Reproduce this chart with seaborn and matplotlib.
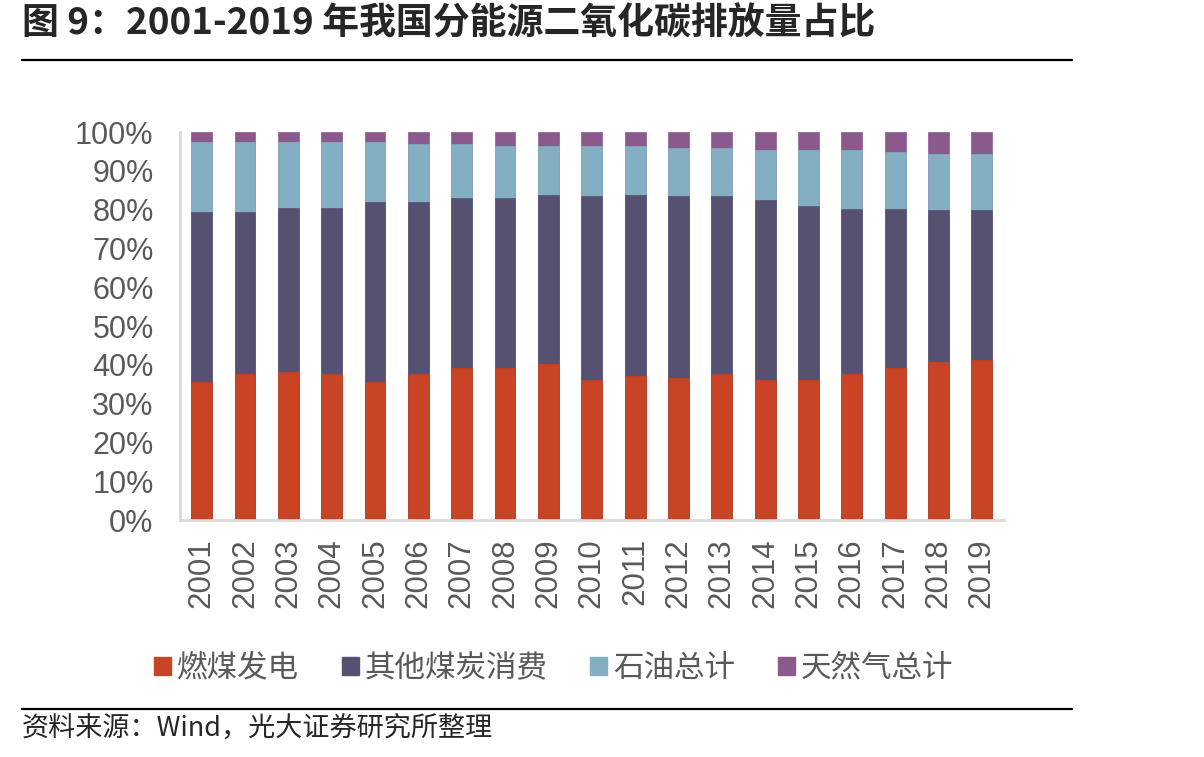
import numpy as np
import pandas as pd
import matplotlib
matplotlib.use('Agg')
import matplotlib.pyplot as plt
from matplotlib.patches import Patch
from matplotlib.lines import Line2D
import seaborn as sns

# ============================================================
# 데이터 (그림에서 읽은 값, %)
# ============================================================
years = [str(y) for y in range(2001, 2020)]
coal_power = [35.6, 37.6, 38.2, 37.6, 35.6, 37.6, 39.2, 39.2, 40.3, 36.1,
              37.1, 36.7, 37.6, 36.1, 36.1, 37.6, 39.2, 40.8, 41.3]
other_coal = [43.7, 41.7, 42.2, 42.8, 46.3, 44.3, 43.7, 43.7, 43.6, 47.3,
              46.8, 46.7, 45.8, 46.3, 44.8, 42.7, 41.1, 39.0, 38.5]
oil_total = [18.1, 18.1, 17.0, 17.0, 15.5, 15.1, 14.1, 13.5, 12.5, 13.0,
             12.5, 12.5, 12.5, 13.0, 14.5, 15.1, 14.5, 14.5, 14.5]
gas_total = [2.6, 2.6, 2.6, 2.6, 2.6, 3.0, 3.0, 3.6, 3.6, 3.6,
             3.6, 4.1, 4.1, 4.6, 4.6, 4.6, 5.2, 5.7, 5.7]

series_names = ['燃煤发电', '其他煤炭消费', '石油总计', '天然气总计']
colors = ['#C84425', '#565171', '#84AFC3', '#8A5A8C']

df = pd.DataFrame({'year': years,
                   series_names[0]: coal_power,
                   series_names[1]: other_coal,
                   series_names[2]: oil_total,
                   series_names[3]: gas_total})

# 누적값 (위에서부터 겹쳐 그리기)
cum = df[series_names].cumsum(axis=1)

# ============================================================
# 스타일
# ============================================================
sns.set_style('white')
plt.rcParams['font.family'] = ['Noto Sans CJK SC', 'DejaVu Sans']
plt.rcParams['axes.unicode_minus'] = False

fig = plt.figure(figsize=(12.04, 7.57), dpi=100)
ax = fig.add_axes([0.1495, 0.313, 0.684, 0.5125])

for name, color in reversed(list(zip(series_names, colors))):
    sns.barplot(x=df['year'], y=cum[name], color=color, width=0.48,
                saturation=1, edgecolor=color, linewidth=0.5, ax=ax)

ax.set_ylim(0, 100)
ax.set_xlim(-0.5, len(years) - 0.5)
ax.set_xlabel('')
ax.set_ylabel('')

ax.set_yticks(np.arange(0, 101, 10))
ax.set_yticklabels([f'{v}%' for v in range(0, 101, 10)],
                   family='Liberation Sans', fontsize=22, color='#595959')
ax.set_xticks(np.arange(len(years)))
ax.set_xticklabels(years, rotation=90, family='Liberation Sans',
                   fontsize=22.5, color='#595959')
ax.set_xticks(np.arange(len(years) + 1) - 0.5, minor=True)
ax.tick_params(axis='x', which='major', length=0, pad=13)
ax.tick_params(axis='x', which='minor', direction='in', length=5,
               width=2, color='#D9D9D9')
ax.tick_params(axis='y', direction='in', length=7, width=2,
               color='#D9D9D9', pad=19)

for side in ['top', 'right']:
    ax.spines[side].set_visible(False)
for side in ['left', 'bottom']:
    ax.spines[side].set_color('#D9D9D9')
    ax.spines[side].set_linewidth(2)

# 범례
handles = [Patch(facecolor=c, edgecolor=c) for c in colors]
leg = fig.legend(handles, series_names, loc='center', ncol=4,
                 bbox_to_anchor=(0.46, 0.117), frameon=False,
                 fontsize=22, handlelength=0.55, handleheight=0.55,
                 handletextpad=0.2, columnspacing=1.4)
for t in leg.get_texts():
    t.set_color('#595959')

# 제목과 구분선
fig.text(0.018, 0.968, '图 9：2001-2019 年我国分能源二氧化碳排放量占比',
         fontsize=26.6, fontweight='bold', va='center', ha='left')
fig.add_artist(Line2D([0.018, 0.89], [0.921, 0.921], color='black', lw=1.6))
fig.add_artist(Line2D([0.018, 0.89], [0.063, 0.063], color='black', lw=1.6))
fig.text(0.018, 0.037, '资料来源：Wind，光大证券研究所整理',
         fontsize=19.5, va='center', ha='left')

plt.savefig('out.png', dpi=100)
